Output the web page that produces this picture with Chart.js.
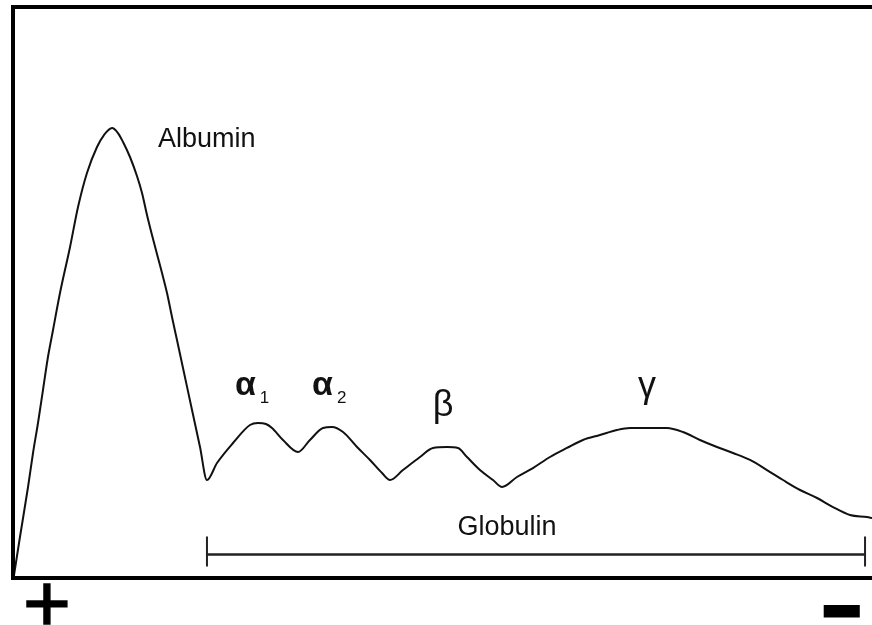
<!DOCTYPE html>
<html>
<head>
<meta charset="utf-8">
<title>Serum protein electrophoresis</title>
<script src="https://cdn.jsdelivr.net/npm/chart.js@4/dist/chart.umd.min.js"></script>
<style>
    html, body { margin: 0; padding: 0; background: #fff; }
    #wrap { width: 872px; height: 625px; position: relative; }
</style>
</head>
<body>
<div id="wrap"><canvas id="speChart"></canvas></div>
<script>
// Migration distance (0 = anode side, 100 = cathode side)
const mobility = [
    0.12, 0.81, 1.75, 2.33, 2.91, 3.49, 4.07, 4.66, 5.47, 6.64,
    7.57, 8.61, 9.78, 10.59, 11.53, 12.22, 12.81, 13.62, 14.43, 15.02,
    15.60, 16.18, 16.76, 17.35, 17.93, 18.51, 19.09, 19.79, 20.84, 21.77,
    22.58, 23.75, 25.61, 27.59, 28.52, 29.45, 30.15, 31.43, 33.18, 34.57,
    36.09, 37.13, 38.42, 40.05, 41.56, 42.96, 43.89, 45.40, 47.38, 48.89,
    50.52, 51.80, 52.85, 54.36, 55.88, 56.93, 58.67, 60.53, 62.51, 64.49,
    66.35, 68.33, 70.31, 71.83, 74.15, 76.13, 77.99, 79.97, 81.95, 83.82,
    85.80, 87.77, 89.64, 91.62, 93.60, 95.46, 97.44, 99.42, 100
];

// Relative protein concentration (densitometer reading)
const density = [
    0.53, 7.18, 15.94, 21.89, 27.15, 32.92, 38.70, 43.43, 49.91, 57.97,
    64.97, 70.93, 75.48, 77.58, 78.81, 77.93, 76.36, 73.73, 70.40, 67.43,
    63.57, 60.07, 56.74, 53.41, 49.91, 45.71, 41.68, 36.78, 29.42, 22.94,
    17.16, 20.14, 23.64, 26.80, 27.15, 26.97, 26.27, 24.17, 22.07, 24.17,
    26.27, 26.44, 25.57, 22.94, 20.67, 18.39, 17.16, 18.91, 21.19, 22.77,
    22.94, 22.77, 21.19, 18.91, 17.16, 15.94, 17.69, 19.26, 21.19, 22.77,
    24.17, 25.04, 25.92, 26.27, 26.27, 26.27, 25.57, 24.17, 22.94, 21.89,
    20.67, 18.91, 17.16, 15.41, 14.01, 12.43, 11.03, 10.68, 10.51
];

// Globulin range along the migration axis
const globulinFrom = 22.58;
const globulinTo = 99.19;

// Fraction labels: text, anchor (data units), alignment
const fractionLabels = [
    { text: 'Albumin', x: 16.88, y: 75.48, align: 'left', font: '27px "Liberation Sans", Arial, sans-serif' },
    { text: 'α', sub: '1', x: 25.84, y: 32.05, align: 'left', font: 'bold 34px "Liberation Sans", Arial, sans-serif' },
    { text: 'α', sub: '2', x: 34.81, y: 32.05, align: 'left', font: 'bold 34px "Liberation Sans", Arial, sans-serif' },
    { text: 'β', x: 50.06, y: 28.37, align: 'center', font: '36px "Liberation Sans", Arial, sans-serif' },
    { text: 'γ', x: 73.80, y: 31.70, align: 'center', font: '36px "Liberation Sans", Arial, sans-serif' },
    { text: 'Globulin', x: 57.51, y: 7.53, align: 'center', font: '27px "Liberation Sans", Arial, sans-serif' }
];

// Electrode polarity marks below the frame
const poles = [
    { text: '+', x: 3.96, y: -5.25 },
    { text: '−', x: 96.45, y: -6.30 }
];

const points = mobility.map((m, i) => ({ x: m, y: density[i] }));

// frame, bracket and text drawn on top of the trace
const overlayPlugin = {
    id: 'overlay',
    afterDatasetsDraw(chart) {
        const ctx = chart.ctx;
        const area = chart.chartArea;
        const xs = chart.scales.x;
        const ys = chart.scales.y;

        ctx.save();
        ctx.strokeStyle = '#000';
        ctx.lineWidth = 4;
        ctx.lineCap = 'square';
        ctx.beginPath();
        ctx.moveTo(area.right + 4, area.top);
        ctx.lineTo(area.left, area.top);
        ctx.lineTo(area.left, area.bottom);
        ctx.lineTo(area.right + 4, area.bottom);
        ctx.stroke();

        // globulin bracket
        const bx1 = xs.getPixelForValue(globulinFrom);
        const bx2 = xs.getPixelForValue(globulinTo);
        const by = 554.5;
        ctx.strokeStyle = '#222';
        ctx.lineCap = 'butt';
        ctx.lineWidth = 2.5;
        ctx.beginPath();
        ctx.moveTo(bx1, by);
        ctx.lineTo(bx2, by);
        ctx.stroke();
        ctx.lineWidth = 2;
        ctx.beginPath();
        ctx.moveTo(bx1, by - 18);
        ctx.lineTo(bx1, by + 12);
        ctx.moveTo(bx2, by - 18);
        ctx.lineTo(bx2, by + 12);
        ctx.stroke();

        ctx.fillStyle = '#111';
        ctx.textBaseline = 'alphabetic';
        fractionLabels.forEach(l => {
            const px = xs.getPixelForValue(l.x);
            const py = ys.getPixelForValue(l.y);
            ctx.font = l.font;
            ctx.textAlign = l.align;
            ctx.fillText(l.text, px, py);
            if (l.sub) {
                const w = ctx.measureText(l.text).width;
                ctx.font = '17px "Liberation Sans", Arial, sans-serif';
                ctx.textAlign = 'left';
                ctx.fillText(l.sub, px + w + 4, py + 8);
            }
        });

        ctx.fillStyle = '#000';
        ctx.strokeStyle = '#000';
        ctx.textAlign = 'center';
        ctx.textBaseline = 'middle';
        poles.forEach(p => {
            const px = xs.getPixelForValue(p.x);
            const py = ys.getPixelForValue(p.y);
            if (p.text === '+') {
                ctx.font = '82px "Liberation Sans", Arial, sans-serif';
                ctx.lineWidth = 1.5;
            } else {
                ctx.font = 'bold 60px "Liberation Sans", Arial, sans-serif';
                ctx.lineWidth = 6;
            }
            ctx.fillText(p.text, px, py);
            ctx.strokeText(p.text, px, py);
        });
        ctx.restore();
    }
};

new Chart(document.getElementById('speChart'), {
    type: 'line',
    data: {
        datasets: [{
            label: 'Densitometer trace',
            data: points,
            borderColor: '#111',
            borderWidth: 2,
            pointRadius: 0,
            cubicInterpolationMode: 'monotone',
            fill: false
        }]
    },
    options: {
        responsive: true,
        maintainAspectRatio: false,
        animation: false,
        layout: { padding: { left: 13, top: 7, right: 0, bottom: 47 } },
        plugins: {
            legend: { display: false },
            tooltip: { enabled: false }
        },
        scales: {
            x: { type: 'linear', min: 0, max: 100, display: false },
            y: { type: 'linear', min: 0, max: 100, display: false }
        }
    },
    plugins: [overlayPlugin]
});
</script>
</body>
</html>
